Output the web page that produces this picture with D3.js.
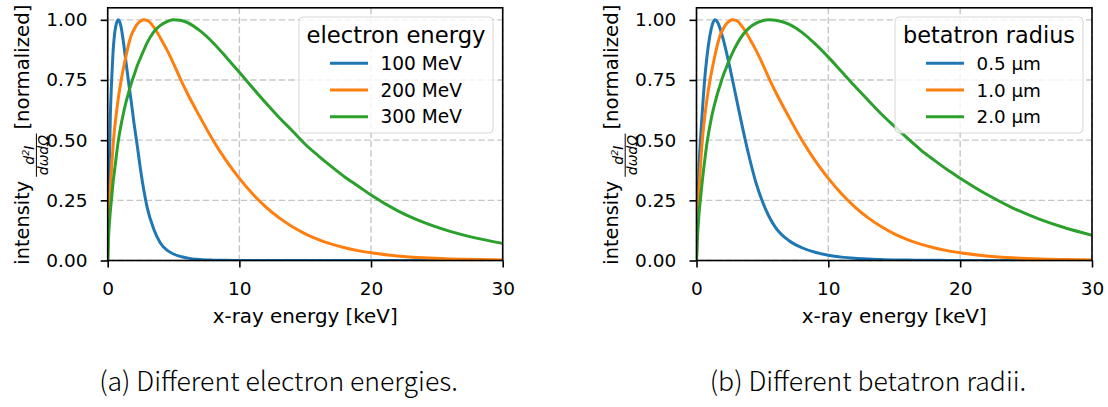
<!DOCTYPE html>
<html>
<head>
<meta charset="utf-8">
<script src="https://cdn.jsdelivr.net/npm/d3@7"></script>
<style>
  html, body { margin: 0; padding: 0; background: #fff; }
  svg { display: block; }
  text { font-family: "DejaVu Sans", sans-serif; fill: #000; }
</style>
</head>
<body>
<svg id="fig" width="1108" height="407"></svg>
<script>
// Photon energy grid [keV] shared by every spectrum
const energyKeV = [0, 0.05, 0.1, 0.2, 0.3, 0.4, 0.5, 0.6, 0.8, 1.0, 1.2, 1.4, 1.6, 1.8, 2.0,
  2.25, 2.5, 2.75, 3.0, 3.5, 4.0, 4.5, 5.0, 5.5, 6.0, 7, 8, 9, 10, 11, 12, 13, 14, 15, 16,
  17, 18, 19, 20, 22, 24, 26, 28, 30];

// (a) normalized spectra for different electron energies
const spec100MeV = [0, 0.18, 0.33, 0.6, 0.75, 0.86, 0.93, 0.97, 1.0, 0.975, 0.905, 0.82, 0.735, 0.655, 0.57,
  0.475, 0.375, 0.29, 0.22, 0.13, 0.073, 0.043, 0.027, 0.017, 0.011, 0.004, 0.0015, 0.0006, 0.0002, 0, 0, 0, 0, 0, 0,
  0, 0, 0, 0, 0, 0, 0, 0, 0];
const spec200MeV = [0, 0.12, 0.19, 0.30, 0.39, 0.47, 0.535, 0.585, 0.672, 0.742, 0.80, 0.852, 0.90, 0.937, 0.96,
  0.982, 0.995, 1.0, 0.998, 0.97, 0.925, 0.875, 0.818, 0.757, 0.70, 0.597, 0.50, 0.415, 0.341, 0.277, 0.223, 0.178, 0.141, 0.111, 0.087,
  0.068, 0.053, 0.041, 0.032, 0.019, 0.011, 0.0065, 0.004, 0.0025];
const spec300MeV = [0, 0.08, 0.13, 0.205, 0.26, 0.32, 0.365, 0.41, 0.495, 0.56, 0.613, 0.66, 0.70, 0.737, 0.77,
  0.81, 0.843, 0.875, 0.905, 0.95, 0.977, 0.993, 1.0, 0.998, 0.99, 0.955, 0.905, 0.845, 0.782, 0.718, 0.655, 0.595, 0.54, 0.483, 0.435,
  0.39, 0.347, 0.31, 0.272, 0.207, 0.158, 0.121, 0.093, 0.071];

// (b) normalized spectra for different betatron radii
const spec05um = [0, 0.15, 0.25, 0.4, 0.5, 0.585, 0.665, 0.74, 0.85, 0.93, 0.98, 1.0, 0.99, 0.962, 0.925,
  0.87, 0.81, 0.745, 0.68, 0.55, 0.43, 0.325, 0.245, 0.183, 0.137, 0.083, 0.053, 0.034, 0.022, 0.014, 0.009, 0.006, 0.004, 0.0025, 0.0016,
  0.001, 0.0007, 0.0005, 0.0003, 0.0001, 0, 0, 0, 0];
const spec10um = [0, 0.12, 0.19, 0.30, 0.39, 0.47, 0.535, 0.585, 0.672, 0.742, 0.80, 0.852, 0.90, 0.937, 0.96,
  0.982, 0.995, 1.0, 0.998, 0.97, 0.925, 0.875, 0.818, 0.757, 0.70, 0.597, 0.50, 0.415, 0.341, 0.277, 0.223, 0.178, 0.141, 0.111, 0.087,
  0.068, 0.053, 0.041, 0.032, 0.019, 0.011, 0.0065, 0.004, 0.0025];
const spec20um = [0, 0.075, 0.12, 0.2, 0.255, 0.31, 0.36, 0.405, 0.49, 0.555, 0.61, 0.655, 0.695, 0.73, 0.765,
  0.80, 0.835, 0.865, 0.892, 0.937, 0.967, 0.985, 0.996, 1.0, 0.998, 0.982, 0.948, 0.90, 0.845, 0.785, 0.725, 0.667, 0.61, 0.558, 0.508,
  0.46, 0.418, 0.378, 0.342, 0.275, 0.218, 0.172, 0.135, 0.105];

const labelsA = ["100 MeV", "200 MeV", "300 MeV"];
const labelsB = ["0.5 \u00b5m", "1.0 \u00b5m", "2.0 \u00b5m"];
const xTicks = [0, 10, 20, 30];
const yTicks = [0, 0.25, 0.5, 0.75, 1.0];

const colors = ["#1f77b4", "#ff7f0e", "#2ca02c"];
const svg = d3.select("#fig");
svg.append("rect").attr("width", 1108).attr("height", 407).attr("fill", "#fff");
const defs = svg.append("defs");

const plotTop = 7.8, plotBottom = 260.5;

// scale a text's font size so its advance width equals the wanted width
function fitWidth(sel, width) {
  const w = sel.node().getComputedTextLength();
  if (w > 0) sel.attr("font-size", +sel.attr("font-size") * width / w);
  return sel;
}

// rotated y label: "intensity  d²I/dωdΩ  [normalized]"
function drawYLabel(baseX, centerY) {
  const g = svg.append("g").attr("transform", `translate(${baseX},${centerY}) rotate(-90)`);
  const t1 = fitWidth(g.append("text").attr("font-size", 19.5).text("intensity"), 84);
  const t3 = fitWidth(g.append("text").attr("font-size", 19.5).text("[normalized]"), 125);
  const fr = g.append("g");
  const num = fr.append("text").attr("font-size", 14).attr("font-style", "italic")
    .attr("text-anchor", "middle").attr("y", 5);
  num.append("tspan").text("d");
  num.append("tspan").attr("font-size", 9.5).attr("dy", -5).text("2");
  num.append("tspan").attr("dy", 5).text("I");
  const den = fr.append("text").attr("font-size", 14).attr("font-style", "italic")
    .attr("text-anchor", "middle").attr("y", 18.6).text("d\u03c9d\u03a9");
  const w1 = t1.node().getComputedTextLength();
  const w3 = t3.node().getComputedTextLength();
  const wf = Math.max(num.node().getComputedTextLength(), den.node().getComputedTextLength()) + 3;
  const gap = 4;
  const total = w1 + gap + wf + gap + w3;
  const u0 = -total / 2;
  t1.attr("x", u0);
  fr.attr("transform", `translate(${u0 + w1 + gap + wf / 2},0)`);
  fr.append("line").attr("x1", -wf / 2).attr("x2", wf / 2).attr("y1", 7.2).attr("y2", 7.2)
    .attr("stroke", "#000").attr("stroke-width", 1);
  t3.attr("x", u0 + w1 + gap + wf + gap);
}

function drawPanel(cfg) {
  const x = d3.scaleLinear().domain([0, 30]).range([cfg.x0, cfg.x1]);
  const y = d3.scaleLinear().domain([0, 1.05]).range([plotBottom, plotTop]);
  const g = svg.append("g");

  const clipId = "clip-" + cfg.id;
  defs.append("clipPath").attr("id", clipId).append("rect")
    .attr("x", cfg.x0).attr("y", plotTop).attr("width", cfg.x1 - cfg.x0).attr("height", plotBottom - plotTop);

  // dashed grid
  const grid = g.append("g").attr("stroke", "#c6c6c6").attr("stroke-width", 1.4)
    .attr("stroke-dasharray", "6.5,3");
  xTicks.forEach(t => grid.append("line").attr("x1", x(t)).attr("x2", x(t))
    .attr("y1", plotTop).attr("y2", plotBottom));
  yTicks.forEach(t => grid.append("line").attr("y1", y(t)).attr("y2", y(t))
    .attr("x1", cfg.x0).attr("x2", cfg.x1));

  // spectra
  const line = d3.line()
    .x((d, i) => x(energyKeV[i]))
    .y(d => y(d))
    .curve(d3.curveMonotoneX);
  const curves = g.append("g").attr("clip-path", `url(#${clipId})`);
  cfg.series.forEach((s, k) => {
    curves.append("path").datum(s).attr("d", line).attr("fill", "none")
      .attr("stroke", colors[k]).attr("stroke-width", 3).attr("stroke-linejoin", "round");
  });

  // axes
  const xAxis = g.append("g").attr("transform", `translate(0,${plotBottom})`)
    .call(d3.axisBottom(x).tickValues(xTicks).tickSize(7).tickPadding(14.5).tickFormat(d3.format("d")));
  const yAxis = g.append("g").attr("transform", `translate(${cfg.x0},0)`)
    .call(d3.axisLeft(y).tickValues(yTicks).tickSize(7).tickPadding(13.2).tickFormat(d3.format(".2f")));
  [xAxis, yAxis].forEach(a => {
    a.select(".domain").remove();
    a.selectAll(".tick line").attr("stroke", "#000").attr("stroke-width", 1.6);
    a.selectAll(".tick text").attr("font-size", 18.5).attr("font-family", "DejaVu Sans").attr("fill", "#000");
  });

  // frame
  g.append("rect").attr("x", cfg.x0).attr("y", plotTop).attr("width", cfg.x1 - cfg.x0)
    .attr("height", plotBottom - plotTop).attr("fill", "none").attr("stroke", "#000").attr("stroke-width", 1.6);

  // axis labels
  fitWidth(g.append("text").attr("x", (cfg.x0 + cfg.x1) / 2).attr("y", 323).attr("text-anchor", "middle")
    .attr("font-size", 19.5).text("x-ray energy [keV]"), 185);
  drawYLabel(cfg.x0 - 78.5, (plotTop + plotBottom) / 2 + 0.5);

  // legend
  const lg = g.append("g");
  lg.append("rect").attr("x", cfg.lx0).attr("y", 17).attr("width", cfg.lx1 - cfg.lx0).attr("height", 116)
    .attr("rx", 4).attr("fill", "#fff").attr("fill-opacity", 0.8)
    .attr("stroke", "#d6d6d6").attr("stroke-width", 1);
  fitWidth(lg.append("text").attr("x", (cfg.lx0 + cfg.lx1) / 2).attr("y", 43).attr("text-anchor", "middle")
    .attr("font-size", 22.3).text(cfg.title), cfg.titleW);
  cfg.labels.forEach((lab, k) => {
    const ly = 63.3 + k * 26.7;
    lg.append("line").attr("x1", cfg.lx0 + 31).attr("x2", cfg.lx0 + 69).attr("y1", ly).attr("y2", ly)
      .attr("stroke", colors[k]).attr("stroke-width", 3);
    fitWidth(lg.append("text").attr("x", cfg.lx0 + 81.5).attr("y", ly + 6.6).attr("font-size", 18).text(lab),
      cfg.entryW);
  });

  // caption
  const cap = svg.append("text").attr("x", cfg.capX).attr("y", 391).attr("text-anchor", "middle")
    .style("font-family", "'Noto Sans CJK SC', 'Noto Sans', sans-serif").attr("font-weight", 300)
    .attr("font-size", 22).text(cfg.caption);
  return cap;
}

const capA = drawPanel({
  id: "a", x0: 107.7, x1: 502.7, lx0: 299, lx1: 493,
  series: [spec100MeV, spec200MeV, spec300MeV], labels: labelsA,
  title: "electron energy", titleW: 179, entryW: 81.5,
  capX: 278.5, caption: "(a) Different electron energies."
});
const capB = drawPanel({
  id: "b", x0: 696.5, x1: 1092, lx0: 895, lx1: 1083,
  series: [spec05um, spec10um, spec20um], labels: labelsB,
  title: "betatron radius", titleW: 172, entryW: 64.5,
  capX: 868, caption: "(b) Different betatron radii."
});

// size captions so the first one spans its measured width
const wA = capA.node().getComputedTextLength();
const capSize = 22 * 359 / wA;
capA.attr("font-size", capSize);
capB.attr("font-size", capSize);
</script>
</body>
</html>
